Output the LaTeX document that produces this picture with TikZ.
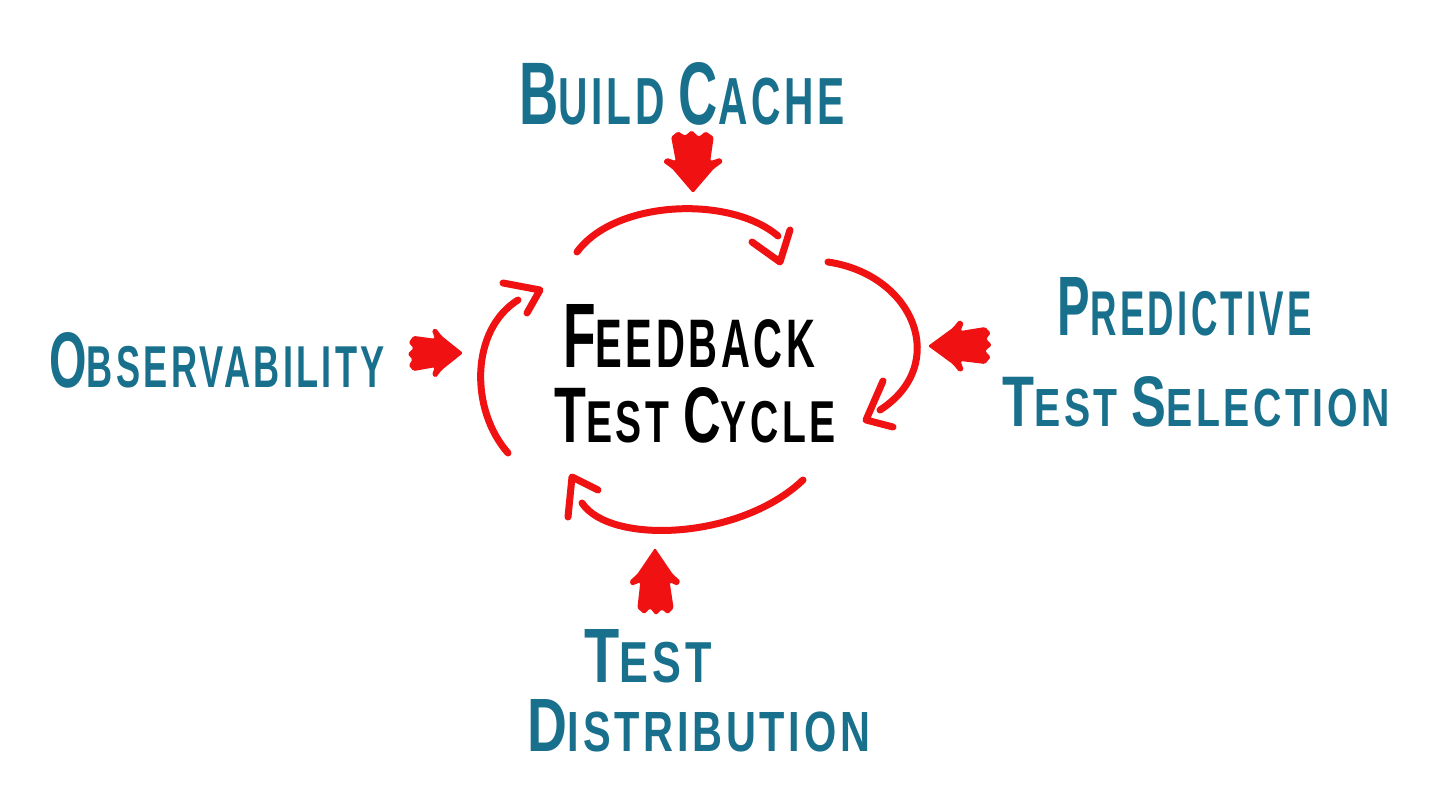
\documentclass[tikz,border=0pt]{standalone}
\usepackage{fontspec}
\setmainfont{Liberation Sans}
\usepackage{graphicx}
\definecolor{tealink}{RGB}{24,112,140}
\definecolor{sred}{RGB}{240,18,18}
\newcommand{\bigL}[1]{{\fontsize{14}{14}\selectfont #1}}
\newcommand{\smL}[1]{{\fontsize{10.5}{10.5}\selectfont #1}}
\newcommand{\fitbox}[3]{\resizebox{#1pt}{#2pt}{\bfseries\addfontfeatures{LetterSpace=9}#3}}
\begin{document}
\begin{tikzpicture}[x=1pt,y=-1pt,
  lbl/.style={inner sep=0pt, text=tealink},
  ctr/.style={inner sep=0pt, text=black},
  cyc/.style={draw=sred, line width=7pt, line cap=round, line join=round},
  blockarrow/.pic={
    \fill[sred, rounded corners=1.5pt] (0,0) -- (-22,-18) -- (-28,-26) -- (-32,-24) -- (-29,-15)
      -- (-51,-18) -- (-56,-11) -- (-51,-5) -- (-57,1) -- (-52,7) -- (-56,13) -- (-51,19)
      -- (-29,15) -- (-32,23) -- (-28,26) -- (-22,18) -- cycle;
  }]
\fill[white] (0,0) rectangle (1440,810);
\useasboundingbox (0,0) rectangle (1440,810);

% labels
\node[lbl] (build) at (682,94) {\fitbox{325}{62}{\bigL{B}\smL{UILD} \bigL{C}\smL{ACHE}}};
\node[lbl] (pred) at (1185,307) {\fitbox{254}{58}{\bigL{P}\smL{REDICTIVE}}};
\node[lbl] (tsel) at (1196,402) {\fitbox{387}{50}{\bigL{T}\smL{EST} \bigL{S}\smL{ELECTION}}};
\node[lbl] (obs) at (217,360) {\fitbox{335}{55}{\bigL{O}\smL{BSERVABILITY}}};
\node[lbl] (test) at (648,656) {\fitbox{127}{53}{\bigL{T}\smL{EST}}};
\node[lbl] (dist) at (699,726) {\fitbox{342}{52}{\bigL{D}\smL{ISTRIBUTION}}};
\node[ctr] (fb) at (689,336) {\fitbox{252}{63}{\bigL{F}\smL{EEDBACK}}};
\node[ctr] (tc) at (695,415) {\fitbox{281}{55}{\bigL{T}\smL{EST} \bigL{C}\smL{YCLE}}};

% block arrows
\pic[rotate=-90, xscale=1.1, yscale=1.15] at (693,193) {blockarrow};
\pic[rotate=180, xscale=1.12, yscale=1.0] at (928,346) {blockarrow};
\pic[rotate=90, xscale=1.18, yscale=0.98] at (655,548) {blockarrow};
\pic[xscale=0.97, yscale=0.95] at (463,353) {blockarrow};

% cycle arcs
\draw[cyc] (577,252) .. controls (615,200) and (730,195) .. (778,236);
\draw[cyc] (752,242) -- (780,262) -- (790,230);
\draw[cyc] (828,262) .. controls (915,275) and (950,365) .. (880,410);
\draw[cyc] (883,381) -- (866,420) -- (893,427);
\draw[cyc] (803,480) .. controls (740,540) and (610,545) .. (582,503);
\draw[cyc] (598,490) -- (572,477) -- (568,517);
\draw[cyc] (508,453) .. controls (470,410) and (470,330) .. (518,300);
\draw[cyc] (503,283) -- (540,290) -- (527,313);
\end{tikzpicture}
\end{document}
